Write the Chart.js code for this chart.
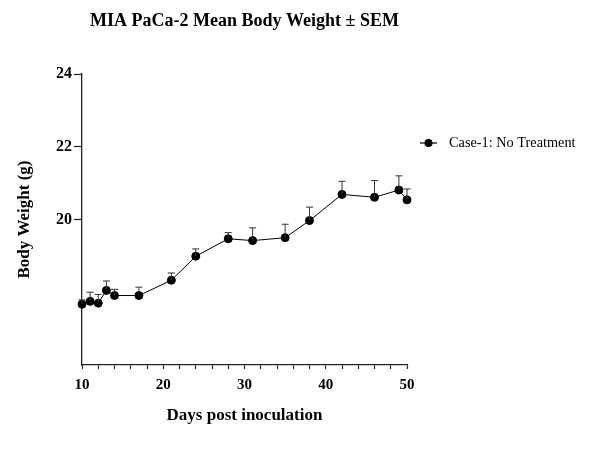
<!DOCTYPE html>
<html>
<head>
<meta charset="utf-8">
<script src="https://cdn.jsdelivr.net/npm/chart.js@4"></script>
<style>
  html, body { margin: 0; padding: 0; background: #fff; }
  #wrap { width: 591px; height: 456px; position: relative; }
</style>
</head>
<body>
<div id="wrap"><canvas id="c"></canvas></div>
<script>
const days = [10, 11, 12, 13, 14, 17, 21, 24, 28, 31, 35, 38, 42, 46, 49, 50];
const meanWeight = [17.67, 17.75, 17.70, 18.05, 17.91, 17.91, 18.33, 18.99, 19.47, 19.42, 19.50, 19.97, 20.69, 20.61, 20.81, 20.54];
const semWeight = [0.12, 0.25, 0.24, 0.26, 0.17, 0.23, 0.20, 0.20, 0.17, 0.35, 0.37, 0.37, 0.36, 0.46, 0.39, 0.30];
const yTickValues = [20, 22, 24];
const xLabelValues = [10, 20, 30, 40, 50];
const seriesName = 'Case-1: No Treatment';
const chartTitle = 'MIA PaCa-2 Mean Body Weight \u00b1 SEM';
const xTitle = 'Days post inoculation';
const yTitle = 'Body Weight (g)';

const FONT = "'Liberation Serif', 'Times New Roman', serif";

const errorBars = {
  id: 'errorBars',
  afterDatasetsDraw(chart) {
    const {ctx, scales: {x, y}} = chart;
    ctx.save();
    ctx.strokeStyle = '#333';
    ctx.lineWidth = 1;
    days.forEach((d, i) => {
      const px = x.getPixelForValue(d);
      const py = y.getPixelForValue(meanWeight[i]);
      const pt = y.getPixelForValue(meanWeight[i] + semWeight[i]);
      ctx.beginPath();
      ctx.moveTo(px, py);
      ctx.lineTo(px, pt);
      ctx.moveTo(px - 3.5, pt);
      ctx.lineTo(px + 3.5, pt);
      ctx.stroke();
    });
    ctx.restore();
  }
};

const customLegend = {
  id: 'customLegend',
  afterDraw(chart) {
    const {ctx} = chart;
    const ly = 143;
    ctx.save();
    ctx.strokeStyle = '#000';
    ctx.lineWidth = 1.2;
    ctx.beginPath();
    ctx.moveTo(420, ly);
    ctx.lineTo(437, ly);
    ctx.stroke();
    ctx.fillStyle = '#000';
    ctx.beginPath();
    ctx.arc(428.5, ly, 4, 0, Math.PI * 2);
    ctx.fill();
    ctx.font = "14.3px " + FONT;
    ctx.textBaseline = 'middle';
    ctx.textAlign = 'left';
    ctx.fillText(seriesName, 449, ly);
    ctx.restore();
  }
};

new Chart(document.getElementById('c'), {
  type: 'line',
  data: {
    datasets: [{
      label: seriesName,
      data: days.map((d, i) => ({x: d, y: meanWeight[i]})),
      borderColor: '#000',
      backgroundColor: '#000',
      borderWidth: 1,
      pointRadius: 4,
      pointHoverRadius: 4,
      pointBackgroundColor: '#000',
      pointBorderColor: '#000',
      tension: 0,
      clip: false
    }]
  },
  options: {
    responsive: true,
    maintainAspectRatio: false,
    animation: false,
    devicePixelRatio: 1,
    layout: { padding: { top: 0, left: 0, right: 184, bottom: 0 } },
    plugins: {
      legend: { display: false },
      tooltip: { enabled: false },
      title: {
        display: true,
        text: chartTitle,
        fullSize: false,
        color: '#000',
        font: { family: FONT, size: 18, weight: 'bold', lineHeight: 1.2 },
        padding: { top: 11, bottom: 41.4 }
      }
    },
    scales: {
      x: {
        type: 'linear',
        min: 10,
        max: 50,
        afterFit(s) { s.height = 91; },
        afterBuildTicks(s) {
          const t = [];
          for (let v = 10; v <= 50; v += 2) t.push({value: v});
          s.ticks = t;
        },
        ticks: {
          autoSkip: false,
          maxRotation: 0,
          color: '#000',
          padding: 7,
          font: { family: FONT, size: 15, weight: 'bold' },
          callback: (v) => xLabelValues.includes(v) ? String(v) : ''
        },
        grid: {
          drawOnChartArea: false,
          drawTicks: true,
          tickLength: 4,
          tickColor: '#222',
          tickWidth: 1.2
        },
        border: { display: true, color: '#222', width: 1.3 },
        title: {
          display: true,
          text: xTitle,
          color: '#000',
          font: { family: FONT, size: 17, weight: 'bold', lineHeight: 1.2 },
          padding: { top: 0, bottom: 30 }
        }
      },
      y: {
        type: 'linear',
        min: 16,
        max: 24,
        afterFit(s) { s.width = 82; },
        afterBuildTicks(s) { s.ticks = yTickValues.map(v => ({value: v})); },
        ticks: {
          color: '#000',
          padding: 2,
          font: { family: FONT, size: 16, weight: 'bold' },
          callback: (v) => String(v)
        },
        grid: {
          drawOnChartArea: false,
          drawTicks: true,
          tickLength: 8,
          tickColor: '#222',
          tickWidth: 1.2
        },
        border: { display: true, color: '#222', width: 1.3 },
        title: {
          display: true,
          text: yTitle,
          color: '#000',
          font: { family: FONT, size: 17, weight: 'bold', lineHeight: 1.2 },
          padding: { top: 14, bottom: 0 }
        }
      }
    }
  },
  plugins: [errorBars, customLegend]
});
</script>
</body>
</html>
